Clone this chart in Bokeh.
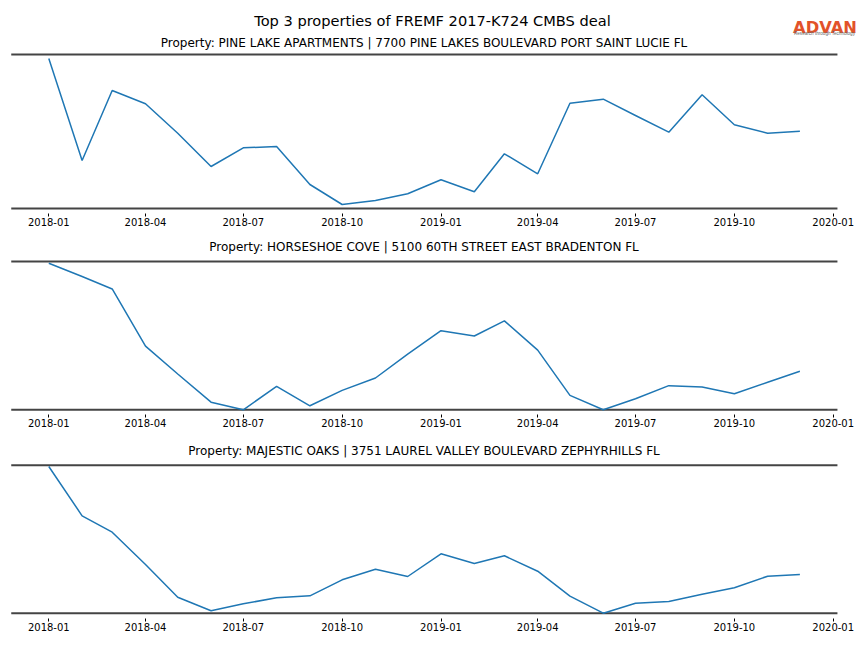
import datetime as dt
from bokeh.plotting import figure
from bokeh.layouts import column
from bokeh.models import Range1d, Label, FixedTicker, DatetimeTickFormatter
from bokeh.embed import file_html
from bokeh.resources import INLINE

# ---------------- data ----------------
months = ["2018-01", "2018-02", "2018-03", "2018-04", "2018-05", "2018-06",
          "2018-07", "2018-08", "2018-09", "2018-10", "2018-11", "2018-12",
          "2019-01", "2019-02", "2019-03", "2019-04", "2019-05", "2019-06",
          "2019-07", "2019-08", "2019-09", "2019-10", "2019-11", "2019-12"]
tick_labels = ["2018-01", "2018-04", "2018-07", "2018-10", "2019-01",
               "2019-04", "2019-07", "2019-10", "2020-01"]
main_title = "Top 3 properties of FREMF 2017-K724 CMBS deal"
panel_titles = [
    "Property: PINE LAKE APARTMENTS | 7700 PINE LAKES BOULEVARD PORT SAINT LUCIE FL",
    "Property: HORSESHOE COVE | 5100 60TH STREET EAST BRADENTON FL",
    "Property: MAJESTIC OAKS | 3751 LAUREL VALLEY BOULEVARD ZEPHYRHILLS FL",
]
logo_text = "ADVAN"
logo_tagline = "Research through Technology"
pine_lake = [150.0, 48.0, 118.0, 104.7, 75.3, 42.0, 60.7, 62.0, 24.0, 4.0, 8.0, 14.7,
             28.7, 16.7, 54.7, 34.7, 105.3, 109.3, 93.0, 76.3, 113.7, 83.7, 75.3, 77.3]
horseshoe = [146.6, 133.4, 121.0, 64.3, 36.6, 8.6, 1.0, 24.3, 5.0, 20.3, 32.6, 56.3,
             79.6, 74.3, 89.3, 60.3, 15.3, 1.0, 12.0, 25.0, 23.6, 17.0, 28.3, 39.3]
majestic = [146.7, 97.4, 81.0, 48.7, 16.0, 2.4, 9.4, 15.4, 17.4, 33.4, 44.0, 36.7,
            59.4, 49.7, 57.4, 42.0, 17.0, 0.0, 10.0, 11.7, 19.0, 25.4, 37.0, 38.7]
series = [pine_lake, horseshoe, majestic]
y_limits = [(0.0, 154.0), (1.0, 148.3), (0.0, 148.0)]

# ---------------- helpers ----------------
def to_date(s):
    y, m = s.split("-")
    return dt.datetime(int(y), int(m), 1)

epoch = dt.datetime(1970, 1, 1)
dates = [to_date(m) for m in months]
tick_dates = [to_date(t) for t in tick_labels]
ticks_ms = [(t - epoch).total_seconds() * 1000 for t in tick_dates]

# axes extent in data (5 % margins like the original)
pad = (dates[-1] - dates[0]) * 0.05
spine_x0, spine_x1 = dates[0] - pad, dates[-1] + pad

# horizontal pixel layout (frame spans the whole width)
W = 864
TICK_FIRST_PX, TICK_LAST_PX = 48.3, 832.7
span_days = (tick_dates[-1] - tick_dates[0]).days
ppd = (TICK_LAST_PX - TICK_FIRST_PX) / span_days
x_lo = tick_dates[0] - dt.timedelta(days=TICK_FIRST_PX / ppd)
x_hi = tick_dates[-1] + dt.timedelta(days=(W - TICK_LAST_PX) / ppd)

FONT = "DejaVu Sans"
SPINE = "#444444"
LINE = "#1f77b4"
TXT_SHIFT = 5  # correction for label placement

# per panel: figure height, frame height, spine top px, spine bottom px (local), title baseline (local)
geom = [(234, 213, 54.0, 208.0, 47.0),
        (204, 180, 27.0, 175.3, 17.0),
        (210, 180, 26.7, 174.7, 17.0)]

figs = []
for i, (vals, ttl, (ylo, yhi), (h, fh, T, B, tb)) in enumerate(zip(series, panel_titles, y_limits, geom)):
    u = (yhi - ylo) / (B - T)
    y_end = yhi + T * u
    y_start = ylo - (fh - B) * u
    p = figure(width=W, height=h, x_axis_type="datetime", output_backend="svg",
               toolbar_location=None, min_border_left=0, min_border_right=0,
               min_border_top=0, min_border_bottom=h - fh,
               x_range=Range1d(x_lo, x_hi), y_range=Range1d(y_start, y_end),
               background_fill_color="white", border_fill_color="white",
               outline_line_color=None)
    p.title.visible = False
    # spines (top and bottom)
    p.segment(x0=[spine_x0, spine_x0], y0=[ylo, yhi], x1=[spine_x1, spine_x1], y1=[ylo, yhi],
              line_color=SPINE, line_width=2)
    p.line(dates, vals, line_color=LINE, line_width=1.5)
    p.add_layout(Label(x=423.5, y=fh - tb + TXT_SHIFT, x_units="screen", y_units="screen", text=ttl,
                       text_font=FONT, text_font_size="12px", text_color="black",
                       text_align="center", text_baseline="alphabetic"))
    if i == 0:
        p.add_layout(Label(x=432, y=fh - 24.7 + TXT_SHIFT, x_units="screen", y_units="screen",
                           text=main_title,
                           text_font=FONT, text_font_size="14.6px", text_color="black",
                           text_align="center", text_baseline="alphabetic"))
        p.add_layout(Label(x=824.5, y=fh - 32.3 + TXT_SHIFT, x_units="screen", y_units="screen",
                           text=logo_text,
                           text_font=FONT, text_font_size="16.3px", text_font_style="bold",
                           text_color="#e2522a", text_align="center", text_baseline="alphabetic"))
        p.add_layout(Label(x=824, y=fh - 38.3 + TXT_SHIFT, x_units="screen", y_units="screen",
                           text=logo_tagline,
                           text_font="Liberation Sans", text_font_size="4.6px",
                           text_color="#666666", text_align="center", text_baseline="alphabetic"))
    p.yaxis.visible = False
    p.xgrid.visible = False
    p.ygrid.visible = False
    ax = p.xaxis[0]
    ax.ticker = FixedTicker(ticks=ticks_ms)
    ax.formatter = DatetimeTickFormatter(days="%Y-%m", months="%Y-%m", years="%Y-%m",
                                         hours="%Y-%m", minutes="%Y-%m")
    ax.axis_line_color = None
    ax.major_tick_in = 0
    ax.major_tick_out = 3
    ax.major_tick_line_color = "black"
    ax.major_tick_line_width = 1
    ax.minor_tick_line_color = None
    ax.major_label_standoff = 1
    ax.major_label_text_font = FONT
    ax.major_label_text_font_size = "10px"
    ax.major_label_text_color = "black"
    figs.append(p)

layout = column(*figs, spacing=0)
open("out.html", "w").write(file_html(layout, INLINE))
